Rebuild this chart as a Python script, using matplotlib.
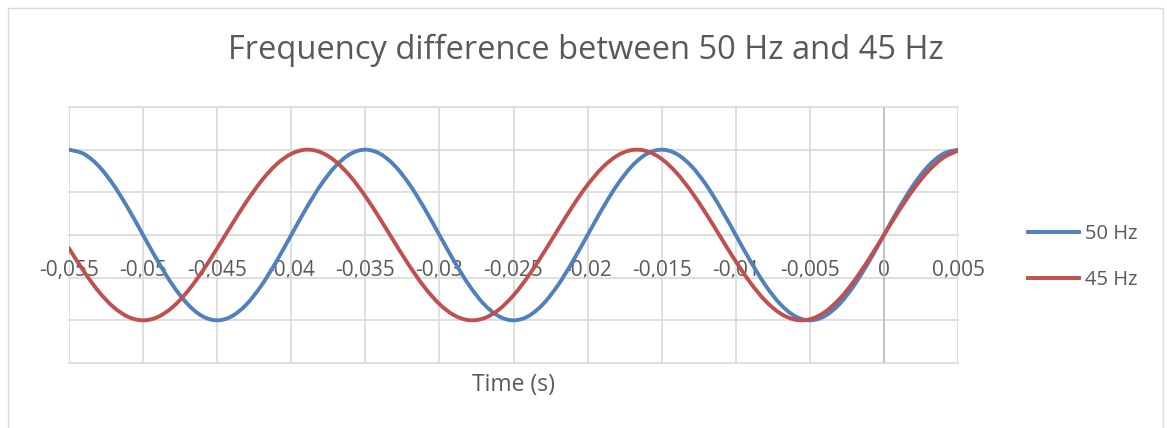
import numpy as np
import matplotlib
matplotlib.use("Agg")
import matplotlib.pyplot as plt
from matplotlib.patches import Rectangle, PathPatch
from matplotlib.path import Path
from matplotlib.lines import Line2D

plt.rcParams['font.family'] = ['Open Sans', 'DejaVu Sans']

# sample times (s), one sample per millisecond
time_s = np.arange(-55, 6) / 1000.0

# 50 Hz signal
hz50 = [1.000, 0.951, 0.809, 0.588, 0.309, 0.000, -0.309, -0.588, -0.809, -0.951,
        -1.000, -0.951, -0.809, -0.588, -0.309, 0.000, 0.309, 0.588, 0.809, 0.951,
        1.000, 0.951, 0.809, 0.588, 0.309, 0.000, -0.309, -0.588, -0.809, -0.951,
        -1.000, -0.951, -0.809, -0.588, -0.309, 0.000, 0.309, 0.588, 0.809, 0.951,
        1.000, 0.951, 0.809, 0.588, 0.309, 0.000, -0.309, -0.588, -0.809, -0.951,
        -1.000, -0.951, -0.809, -0.588, -0.309, 0.000, 0.309, 0.588, 0.809, 0.951,
        1.000]

# 45 Hz signal
hz45 = [-0.156, -0.426, -0.661, -0.844, -0.960, -1.000, -0.960, -0.844, -0.661, -0.426,
        -0.156, 0.125, 0.397, 0.637, 0.827, 0.951, 1.000, 0.969, 0.861, 0.685,
        0.454, 0.187, -0.094, -0.368, -0.613, -0.809, -0.941, -0.998, -0.976, -0.876,
        -0.707, -0.482, -0.218, 0.063, 0.339, 0.588, 0.790, 0.930, 0.996, 0.982,
        0.891, 0.729, 0.509, 0.249, -0.031, -0.309, -0.562, -0.771, -0.918, -0.992,
        -0.988, -0.905, -0.750, -0.536, -0.279, 0.000, 0.279, 0.536, 0.750, 0.905,
        0.988]

xticks = [-0.055, -0.05, -0.045, -0.04, -0.035, -0.03, -0.025, -0.02, -0.015,
          -0.01, -0.005, 0.0, 0.005]
xtick_labels = ['-0,055', '-0,05', '-0,045', '-0,04', '-0,035', '-0,03', '-0,025',
                '-0,02', '-0,015', '-0,01', '-0,005', '0', '0,005']
yticks = [-1.5, -1.0, -0.5, 0.0, 0.5, 1.0, 1.5]

grid_c = '#d9d9d9'
text_c = '#595959'


def smooth_path(x, y):
    # excel-style smoothed line: cubic bezier segments through the samples
    x = np.asarray(x, float)
    y = np.asarray(y, float)
    verts = [(x[0], y[0])]
    codes = [Path.MOVETO]
    n = len(x)
    for i in range(n - 1):
        i0, i3 = max(i - 1, 0), min(i + 2, n - 1)
        c1 = (x[i] + (x[i + 1] - x[i0]) / 6, y[i] + (y[i + 1] - y[i0]) / 6)
        c2 = (x[i + 1] - (x[i3] - x[i]) / 6, y[i + 1] - (y[i3] - y[i]) / 6)
        verts += [c1, c2, (x[i + 1], y[i + 1])]
        codes += [Path.CURVE4] * 3
    return Path(verts, codes)


fig = plt.figure(figsize=(11.67, 4.28), dpi=100)
fig.patches.append(Rectangle((8 / 1167, -0.05), 1155 / 1167, 1.05 - 8 / 428,
                             transform=fig.transFigure, fill=False,
                             edgecolor=grid_c, lw=1))
ax = fig.add_axes([69 / 1167, 65 / 428, 889 / 1167, 256 / 428])

ax.set_xlim(-0.055, 0.005)
ax.set_ylim(-1.5, 1.5)
ax.set_xticks(xticks)
ax.set_xticklabels(xtick_labels)
ax.set_yticks(yticks)
ax.set_yticklabels([])
ax.grid(True, color=grid_c, lw=1.2)
for gl in ax.get_xgridlines() + ax.get_ygridlines():
    gl.set_clip_on(False)
ax.set_axisbelow(True)

for s in ['top', 'right', 'left']:
    ax.spines[s].set_visible(False)
ax.spines['bottom'].set_position(('data', 0))
ax.spines['bottom'].set_color(grid_c)
ax.axvline(0, color='#bfbfbf', lw=1.2, zorder=1)
ax.tick_params(axis='both', length=0)
ax.tick_params(axis='x', colors=text_c, labelsize=15, pad=18)

series = [(hz50, '#4f81bd', '50 Hz'), (hz45, '#c0504d', '45 Hz')]
handles = []
for vals, col, lab in series:
    ax.add_patch(PathPatch(smooth_path(time_s, vals), facecolor='none',
                           edgecolor=col, lw=2.8, capstyle='round', zorder=3))
    handles.append(Line2D([], [], color=col, lw=2.8, label=lab))

ax.set_xlabel('Time (s)', color=text_c, fontsize=16.5)
ax.xaxis.set_label_coords(0.5, -0.04)

fig.text(586 / 1167, 1 - 50 / 428, 'Frequency difference between 50 Hz and 45 Hz',
         ha='center', va='center', fontsize=23.5, color=text_c)

leg = ax.legend(handles=handles, loc='center left', bbox_to_anchor=(1.058, 0.413),
                frameon=False, fontsize=14.5, handlelength=2.55, handletextpad=0.3,
                labelspacing=1.3, labelcolor=text_c)

fig.savefig('out.png', dpi=100)
